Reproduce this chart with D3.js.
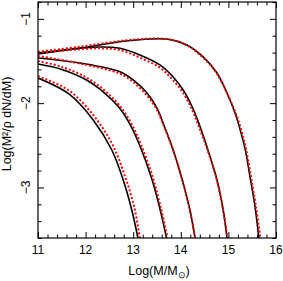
<!DOCTYPE html>
<html>
<head>
<meta charset="utf-8">
<script src="https://cdn.jsdelivr.net/npm/d3@7"></script>
<style>
  body { margin: 0; background: #fff; }
  text { font-family: "Liberation Sans", Arial, sans-serif; }
</style>
</head>
<body>
<svg id="chart"></svg>
<script>
// black curves (solid), log M vs log(M^2/rho dN/dM)
const blackA = [[11.00,-1.417],[11.88,-1.346],[12.85,-1.263],[13.35,-1.239],[13.77,-1.245],[14.13,-1.310],[14.47,-1.452],[14.76,-1.642],[14.97,-1.880],[15.14,-2.117],[15.24,-2.30],[15.35,-2.54],[15.45,-2.86],[15.56,-3.23],[15.64,-3.600]];
const blackB = [[11.00,-1.405],[11.65,-1.363],[12.30,-1.334],[12.72,-1.349],[13.14,-1.429],[13.56,-1.547],[13.84,-1.690],[14.05,-1.844],[14.24,-2.046],[14.36,-2.21],[14.57,-2.556],[14.76,-2.911],[14.89,-3.267],[14.97,-3.600]];
const blackC = [[11.00,-1.464],[11.88,-1.524],[12.72,-1.627],[13.00,-1.725],[13.29,-1.880],[13.50,-2.06],[13.65,-2.27],[13.84,-2.556],[14.03,-2.911],[14.19,-3.267],[14.30,-3.600]];
const blackD = [[11.00,-1.536],[11.50,-1.60],[12.00,-1.72],[12.40,-1.88],[12.70,-2.05],[12.95,-2.27],[13.15,-2.52],[13.38,-2.88],[13.56,-3.25],[13.70,-3.600]];
const blackE = [[11.00,-1.702],[11.65,-1.891],[12.16,-2.200],[12.55,-2.556],[12.79,-2.911],[12.97,-3.267],[13.10,-3.600]];

// red curves (dotted)
const redA = [[11.00,-1.39],[11.88,-1.33],[12.85,-1.255],[13.35,-1.235],[13.77,-1.245],[14.13,-1.315],[14.47,-1.46],[14.76,-1.65],[14.97,-1.88],[15.14,-2.10],[15.25,-2.28],[15.36,-2.52],[15.47,-2.86],[15.58,-3.23],[15.67,-3.60]];
const redB = [[11.00,-1.40],[11.65,-1.37],[12.30,-1.35],[12.72,-1.37],[13.14,-1.46],[13.56,-1.58],[13.84,-1.73],[14.05,-1.88],[14.24,-2.08],[14.36,-2.25],[14.57,-2.57],[14.76,-2.92],[14.89,-3.27],[14.98,-3.60]];
const redC = [[11.00,-1.44],[11.88,-1.53],[12.72,-1.65],[13.00,-1.75],[13.29,-1.91],[13.50,-2.08],[13.65,-2.28],[13.84,-2.56],[14.03,-2.91],[14.19,-3.26],[14.30,-3.60]];
const redD = [[11.00,-1.50],[11.50,-1.57],[12.00,-1.69],[12.40,-1.85],[12.70,-2.02],[12.96,-2.24],[13.17,-2.50],[13.40,-2.86],[13.58,-3.24],[13.72,-3.60]];
const redE = [[11.00,-1.68],[11.65,-1.85],[12.16,-2.14],[12.57,-2.50],[12.83,-2.87],[13.02,-3.23],[13.14,-3.60]];

const xTicks = [11, 12, 13, 14, 15, 16];
const yTicks = [-1, -2, -3];
const xLabel = "Log(M/M";
const yLabel = "Log(M²/ρ dN/dM)";

const width = 283, height = 281;
const m = {left: 38, top: 2, right: 7, bottom: 43};
const w = width - m.left - m.right, h = height - m.top - m.bottom;

const svg = d3.select("#chart").attr("width", width).attr("height", height);

const x = d3.scaleLinear().domain([11, 16]).range([0, w]);
const y = d3.scaleLinear().domain([-3.6, -0.8]).range([h, 0]);

const g = svg.append("g").attr("transform", `translate(${m.left},${m.top})`);

g.append("clipPath").attr("id", "clip")
  .append("rect").attr("width", w).attr("height", h);

const line = d3.line()
  .x(d => x(d[0]))
  .y(d => y(d[1]))
  .curve(d3.curveCatmullRom.alpha(0.5));

const plot = g.append("g").attr("clip-path", "url(#clip)");

[blackA, blackB, blackC, blackD, blackE].forEach(s => {
  plot.append("path").attr("d", line(s))
    .attr("fill", "none").attr("stroke", "#000").attr("stroke-width", 1.6);
});
[redA, redB, redC, redD, redE].forEach(s => {
  plot.append("path").attr("d", line(s))
    .attr("fill", "none").attr("stroke", "#ff0000").attr("stroke-width", 2)
    .attr("stroke-dasharray", "2,2");
});

// minor tick values
const xMinor = d3.range(11, 16.001, 0.2).filter(v => Math.abs(v - Math.round(v)) > 0.01);
const yMinor = d3.range(-3.6, -0.799, 0.2).filter(v => Math.abs(v - Math.round(v)) > 0.01);

function ticks(axis, vals, size) {
  return axis.tickValues(vals).tickSize(size).tickFormat("");
}

// inward ticks on all four sides
g.append("g").attr("transform", `translate(0,${h})`).call(ticks(d3.axisTop(x), xTicks, 6));
g.append("g").attr("transform", `translate(0,${h})`).call(ticks(d3.axisTop(x), xMinor, 3.5));
g.append("g").call(ticks(d3.axisBottom(x), xTicks, 6));
g.append("g").call(ticks(d3.axisBottom(x), xMinor, 3.5));
g.append("g").call(ticks(d3.axisRight(y), yTicks, 6));
g.append("g").call(ticks(d3.axisRight(y), yMinor, 3.5));
g.append("g").attr("transform", `translate(${w},0)`).call(ticks(d3.axisLeft(y), yTicks, 6));
g.append("g").attr("transform", `translate(${w},0)`).call(ticks(d3.axisLeft(y), yMinor, 3.5));
g.selectAll(".domain").remove();
g.selectAll(".tick line").attr("stroke", "#000").attr("stroke-width", 1);

g.append("rect").attr("width", w).attr("height", h)
  .attr("fill", "none").attr("stroke", "#000").attr("stroke-width", 1.2);

// tick labels
g.selectAll(".xlab").data(xTicks).enter().append("text")
  .attr("x", d => x(d)).attr("y", h + 16)
  .attr("text-anchor", "middle").attr("font-size", 12)
  .text(d => d);

g.selectAll(".ylab").data(yTicks).enter().append("text")
  .attr("transform", d => `translate(-8,${y(d)}) rotate(-90)`)
  .attr("text-anchor", "middle").attr("font-size", 12)
  .text(d => "\u2212" + Math.abs(d));

// axis titles
const xt = g.append("text")
  .attr("x", w / 2 + 2).attr("y", h + 37)
  .attr("text-anchor", "middle").attr("font-size", 12.5);
xt.append("tspan").text(xLabel);
xt.append("tspan").attr("font-size", 9).attr("dy", 3).text("\u2299");
xt.append("tspan").attr("dy", -3).text(")");

g.append("text")
  .attr("transform", `translate(-27,${h / 2 + 4}) rotate(-90)`)
  .attr("text-anchor", "middle").attr("font-size", 12.5)
  .text(yLabel);
</script>
</body>
</html>
